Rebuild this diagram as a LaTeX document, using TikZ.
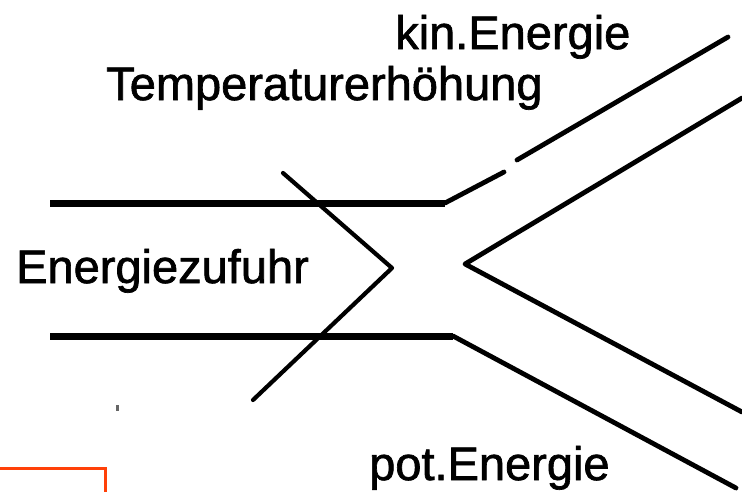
\documentclass[tikz,border=0pt]{standalone}
\usepackage{fontspec}
\setmainfont{Liberation Sans}
\newfontfamily\labelfont{Liberation Sans}[FakeBold=1.4]
\definecolor{frame}{RGB}{255,64,8}
\begin{document}
\begin{tikzpicture}[x=1pt,y=-1pt,
  label/.style={anchor=base west,inner sep=0pt,font=\labelfont\fontsize{47}{56}\selectfont},
  pipe/.style={line width=7pt},
  stroke/.style={line width=4.8pt,line cap=round,line join=round},
  border/.style={draw=frame,line width=3pt}]
  % canvas
  \fill[white] (0,0) rectangle (742,491);
  \useasboundingbox (0,0) rectangle (742,491);

  % named points of the flow channel
  \coordinate (tl) at (50,203);
  \coordinate (tr) at (445,203);
  \coordinate (tk) at (504,172);
  \coordinate (ks) at (517,160);
  \coordinate (ke) at (728,37);
  \coordinate (bl) at (50,336);
  \coordinate (br) at (453,336);
  \coordinate (pe) at (736,488);
  \coordinate (vu) at (742,98);
  \coordinate (vt) at (465,264);
  \coordinate (vd) at (742,412);
  \coordinate (ca) at (283,173);
  \coordinate (cb) at (392,268);
  \coordinate (cc) at (253,400);

  % inflow channel walls
  \draw[pipe] (tl) -- (tr);
  \draw[pipe] (bl) -- (br);
  % upper branch (kinetic energy)
  \draw[stroke] (tr) -- (tk);
  \draw[stroke] (ks) -- (ke);
  % lower branch (potential energy)
  \draw[stroke] (br) -- (pe);
  % separating wedge between the branches
  \draw[stroke] (vu) -- (vt) -- (vd);
  % arrow-like chevron across the inflow
  \draw[stroke,line width=4.2pt] (ca) -- (cb) -- (cc);

  % labels
  \node[label] (kin) at (395,49) {kin.Energie};
  \node[label] (temp) at (106,100) {Temperaturerhöhung};
  \node[label] (zufuhr) at (16,283) {Energiezufuhr};
  \node[label] (pot) at (369,480) {pot.Energie};

  % small stray mark
  \fill[gray!80!black] (116,405) rectangle (118.5,411);
  % frame corner at the lower left
  \draw[border] (0,468) -- (105,468) -- (105,492);
\end{tikzpicture}
\end{document}
